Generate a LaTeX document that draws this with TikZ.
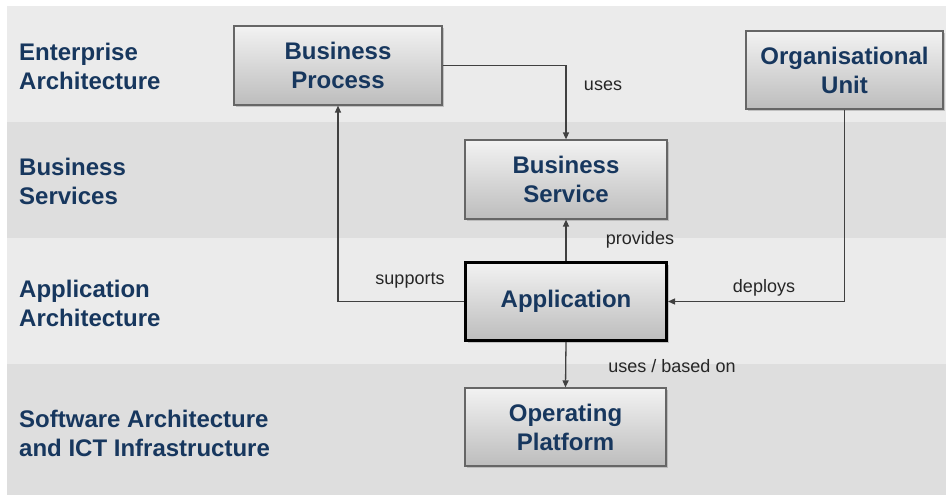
\documentclass[tikz,border=0pt]{standalone}
\usepackage{fontspec}
\setmainfont{Liberation Sans}
\usepackage{tikz}
\usetikzlibrary{arrows.meta,shadows}

\definecolor{bandA}{HTML}{EBEBEB}
\definecolor{bandB}{HTML}{DEDEDE}
\definecolor{layerblue}{HTML}{17375E}
\definecolor{boxedge}{HTML}{666666}
\definecolor{linkgray}{HTML}{404040}

\tikzset{
  layer/.style={anchor=west,align=left,text=layerblue,font=\bfseries\fontsize{24}{29}\selectfont,inner sep=0pt},
  element/.style={rectangle,draw=boxedge,line width=1.2pt,top color=white!95!black,bottom color=white!74!black,
    drop shadow={shadow xshift=2pt,shadow yshift=-2pt,fill=black!40,opacity=.5},
    align=center,text=layerblue,font=\bfseries\fontsize{24}{29}\selectfont,inner sep=0pt},
  link/.style={draw=linkgray,line width=1.3pt,-{Triangle[length=7pt,width=6pt]}},
  linklabel/.style={text=black!85,font=\fontsize{18}{20}\selectfont,inner sep=0pt}
}

\begin{document}
\begin{tikzpicture}[x=1pt,y=-1pt]
  \useasboundingbox (0,0) rectangle (946,495);
  % layer bands
  \fill[bandA] (7,6) rectangle (946,122);
  \fill[bandB] (7,122) rectangle (946,238);
  \fill[bandA] (7,238) rectangle (946,364);
  \fill[bandB] (7,364) rectangle (946,495);

  \node[layer] (ea) at (19,66) {Enterprise\\Architecture};
  \node[layer] (bsv) at (19,181) {Business\\Services};
  \node[layer] (aa) at (19,303) {Application\\Architecture};
  \node[layer] (sa) at (19,433) {Software Architecture\\and ICT Infrastructure};

  % elements
  \node[element,minimum width=208pt,minimum height=79pt] (process) at (338,65.5) {Business\\Process};
  \node[element,minimum width=202pt,minimum height=79pt] (service) at (566,179.5) {Business\\Service};
  \node[element,minimum width=197pt,minimum height=78pt] (unit) at (844.5,70) {Organisational\\Unit};
  \node[element,draw=black,line width=3pt,minimum width=201pt,minimum height=78pt] (app) at (566,301.5) {Application};
  \node[element,minimum width=201pt,minimum height=78pt] (platform) at (565.5,427) {Operating\\Platform};

  % relations
  \draw[link] (process.east) -| (service.north);
  \draw[link] (app.north) -- (service.south);
  \draw[link] (app.west) -| (process.south);
  \draw[link] (unit.south) |- (app.east);
  \draw[link] (app.south) -- (platform.north);

  \node[linklabel] (uses) at (603,86) {uses};
  \node[linklabel] (provides) at (640,240) {provides};
  \node[linklabel] (supports) at (410,281) {supports};
  \node[linklabel] (deploys) at (764,288) {deploys};
  \node[linklabel] (basedon) at (672,366) {uses / based on};
\end{tikzpicture}
\end{document}
